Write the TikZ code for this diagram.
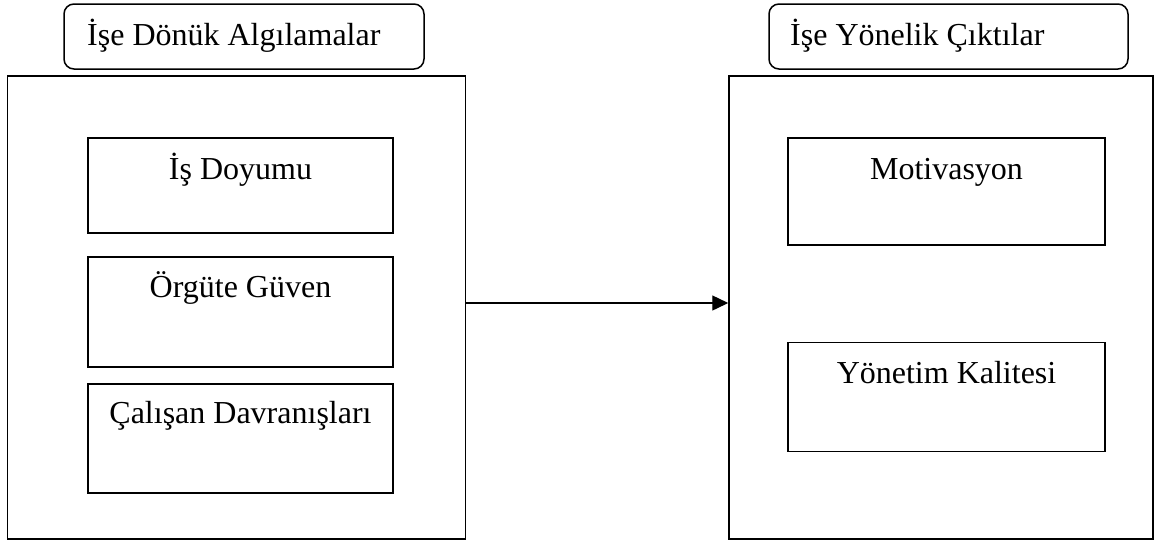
\documentclass[tikz,border=0pt]{standalone}
\usepackage{fontspec}
\setmainfont{Liberation Serif}
\usetikzlibrary{arrows.meta}
\begin{document}
\begin{tikzpicture}[x=1pt,y=-1pt,
  frame/.style={draw, line width=1.5pt, inner sep=0pt},
  header/.style={draw, line width=1.5pt, rounded corners=10pt, inner sep=0pt},
  label/.style={font=\fontsize{32}{36}\selectfont, inner sep=0pt},
  link/.style={line width=1.4pt, -{Triangle[length=16pt,width=15pt]}}]
\useasboundingbox (0,0) rectangle (1157,542);

% group headers
\node[header, minimum width=360pt, minimum height=65pt] (hL) at (244,36.5) {};
\node[label, anchor=base west] (hLt) at (87,45) {İşe Dönük Algılamalar};
\node[header, minimum width=359pt, minimum height=65pt] (hR) at (948.5,36.5) {};
\node[label, anchor=base west] (hRt) at (790,45) {İşe Yönelik Çıktılar};

% outer frames
\node[frame, minimum width=458pt, minimum height=463pt] (L) at (236.5,307.5) {};
\node[frame, minimum width=424pt, minimum height=463pt] (R) at (941,307.5) {};

% left group
\node[frame, minimum width=305pt, minimum height=95pt] (b1) at (240.5,185.5) {};
\node[label, anchor=base] (t1) at (240.5,179) {İş Doyumu};
\node[frame, minimum width=305pt, minimum height=110pt] (b2) at (240.5,312) {};
\node[label, anchor=base] (t2) at (240.5,297) {Örgüte Güven};
\node[frame, minimum width=305pt, minimum height=109pt] (b3) at (240.5,438.5) {};
\node[label, anchor=base] (t3) at (240.5,423) {Çalışan Davranışları};

% right group
\node[frame, minimum width=317pt, minimum height=107pt] (b4) at (946.5,191.5) {};
\node[label, anchor=base] (t4) at (946.5,179) {Motivasyon};
\node[frame, minimum width=317pt, minimum height=109pt] (b5) at (946.5,397) {};
\node[label, anchor=base] (t5) at (946.5,383) {Yönetim Kalitesi};

% relation
\draw[link] ([yshift=4.5pt]L.east) -- ([yshift=4.5pt]R.west);
\end{tikzpicture}
\end{document}
